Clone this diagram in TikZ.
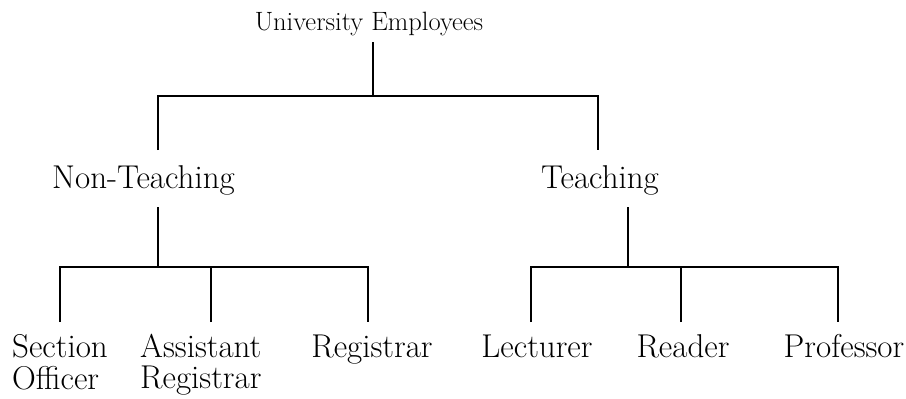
\documentclass[tikz,border=0pt]{standalone}
\begin{document}
\begin{tikzpicture}[x=1pt,y=-1pt,
  lbl/.style={inner sep=0pt,anchor=base,font=\fontsize{33}{31}\selectfont},
  ttl/.style={inner sep=0pt,anchor=base,font=\fontsize{26.5}{28}\selectfont},
  conn/.style={line width=1.3pt,black}]
\useasboundingbox (0,0) rectangle (906,399);
% nodes
\node[ttl] (top) at (369,30) {University Employees};
\node[lbl] (nt) at (143.5,188) {Non-Teaching};
\node[lbl] (t) at (600,188) {Teaching};
\node[lbl,anchor=base west] (so) at (12,357) {\begin{tabular}[t]{@{}l@{}}Section\\Officer\end{tabular}};
\node[lbl,anchor=base west] (ar) at (140,357) {\begin{tabular}[t]{@{}l@{}}Assistant\\Registrar\end{tabular}};
\node[lbl] (reg) at (372,357) {Registrar};
\node[lbl] (lec) at (537,357) {Lecturer};
\node[lbl] (rea) at (683,357) {Reader};
\node[lbl] (pro) at (844,357) {Professor};
% connector points
\coordinate (topS) at (373,42);
\coordinate (j0) at (373,96);
\coordinate (ntN) at (158,150);
\coordinate (tN) at (598,150);
\coordinate (ntS) at (158,207);
\coordinate (j1) at (158,267);
\coordinate (soN) at (60,322);
\coordinate (arN) at (211,322);
\coordinate (regN) at (368,322);
\coordinate (tS) at (628,207);
\coordinate (j2) at (628,267);
\coordinate (lecN) at (531,322);
\coordinate (reaN) at (681,322);
\coordinate (proN) at (838,322);
% connectors
\draw[conn] (topS) -- (j0);
\draw[conn] (ntN) |- (j0) -| (tN);
\draw[conn] (ntS) -- (j1);
\draw[conn] (soN) |- (j1) -| (regN);
\draw[conn] (arN) -- (arN |- j1);
\draw[conn] (tS) -- (j2);
\draw[conn] (lecN) |- (j2) -| (proN);
\draw[conn] (reaN) -- (reaN |- j2);
\end{tikzpicture}
\end{document}
